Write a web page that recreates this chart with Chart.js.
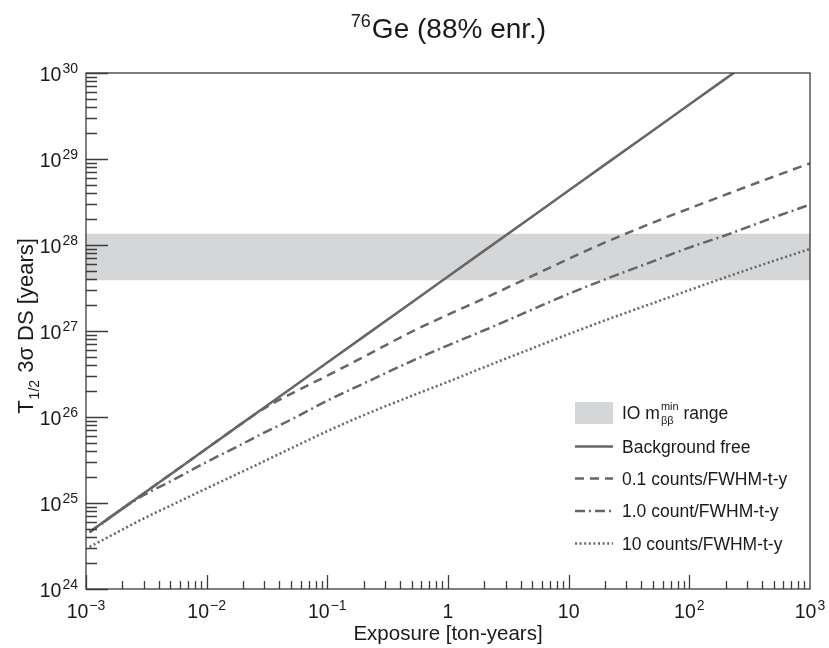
<!DOCTYPE html>
<html lang="en">
<head>
<meta charset="UTF-8">
<title>76Ge (88% enr.) discovery sensitivity</title>
<script src="https://cdn.jsdelivr.net/npm/chart.js@4.4.1/dist/chart.umd.min.js"></script>
<style>
	html, body { margin: 0; padding: 0; background: #fff; }
	#wrap { width: 829px; height: 648px; }
</style>
</head>
<body>
<div id="wrap"><canvas id="mainChart"></canvas></div>
<script>
// exposure grid [ton-years]
const exposure = [1.07e-3, 2e-3, 3e-3, 5e-3, 1e-2, 2e-2, 3e-2, 5e-2, 0.1, 0.2, 0.5, 1, 2, 5, 10, 20, 50, 100, 200, 500, 1000]

// T1/2 3 sigma discovery sensitivity [years]
const bgFree   = [4.6e24, 8.6e24, 1.29e25, 2.15e25, 4.3e25, 8.6e25, 1.29e26, 2.15e26, 4.3e26, 8.6e26, 2.15e27, 4.3e27, 8.6e27, 2.15e28, 4.3e28, 8.6e28, 2.15e29, 4.3e29, 8.6e29, 2.15e30, null]
const counts01 = [4.57e24, 8.6e24, 1.29e25, 2.15e25, 4.3e25, 8.6e25, 1.26e26, 1.86e26, 3.02e26, 5.0e26, 9.8e26, 1.55e27, 2.4e27, 4.37e27, 6.9e27, 1.07e28, 1.82e28, 2.66e28, 3.85e28, 6.24e28, 8.9e28]
const counts1  = [4.57e24, 8.6e24, 1.23e25, 1.78e25, 3.0e25, 4.9e25, 6.6e25, 9.3e25, 1.55e26, 2.45e26, 4.47e26, 6.8e26, 1.02e27, 1.78e27, 2.7e27, 3.98e27, 6.46e27, 9.33e27, 1.30e28, 2.09e28, 2.95e28]
const counts10 = [3.09e24, 4.9e24, 6.6e24, 9.3e24, 1.48e25, 2.34e25, 3.06e25, 4.32e25, 6.85e25, 1.05e26, 1.76e26, 2.57e26, 3.8e26, 6.3e26, 9.2e26, 1.33e27, 2.11e27, 2.99e27, 4.22e27, 6.53e27, 9.0e27]

// IO m_bb^min band [years]
const ioBand = [3.9e27, 1.35e28]

const xRange = [1e-3, 1e3]
const yRange = [1e24, 1e30]
const xTicks = [1e-3, 1e-2, 1e-1, 1, 10, 1e2, 1e3]
const xTickLabels = [["10", "\u22123"], ["10", "\u22122"], ["10", "\u22121"], ["1", ""], ["10", ""], ["10", "2"], ["10", "3"]]
const yTicks = [1e24, 1e25, 1e26, 1e27, 1e28, 1e29, 1e30]
const yTickLabels = [["10", "24"], ["10", "25"], ["10", "26"], ["10", "27"], ["10", "28"], ["10", "29"], ["10", "30"]]

const seriesNames = ["Background free", "0.1 counts/FWHM-t-y", "1.0 count/FWHM-t-y", "10 counts/FWHM-t-y"]

const FONT = '"Liberation Sans", Arial, Helvetica, sans-serif'
const LINE = "#666666"
const dashes = [[], [9, 6], [10, 4, 2, 4], [2, 2.6]]

function pts(values) {
	return exposure.map((e, i) => ({x: e, y: values[i]})).filter(p => p.y !== null)
}

function drawPow(ctx, base, sup, px, py, align, size, supSize, rise) {
	ctx.font = `${size}px ${FONT}`
	const wb = ctx.measureText(base).width
	ctx.font = `${supSize}px ${FONT}`
	const ws = sup ? ctx.measureText(sup).width + 1 : 0
	const w = wb + ws
	const x0 = align === "center" ? px - w / 2 : px - w
	ctx.font = `${size}px ${FONT}`
	ctx.fillText(base, x0, py)
	if(sup) {
		ctx.font = `${supSize}px ${FONT}`
		ctx.fillText(sup, x0 + wb + 1, py - rise)
	}
}

const decor = {
	id: "decor",
	afterDraw(chart) {
		const {ctx, chartArea: a, scales: {x, y}} = chart
		ctx.save()
		ctx.textBaseline = "alphabetic"
		ctx.textAlign = "left"

		// frame
		ctx.strokeStyle = "#3c3c3c"
		ctx.lineWidth = 1.3
		ctx.strokeRect(a.left, a.top, a.right - a.left, a.bottom - a.top)

		// inward ticks
		ctx.beginPath()
		for(let e = Math.log10(xRange[0]); e < Math.log10(xRange[1]); e++) {
			for(let m = 1; m < 10; m++) {
				const px = Math.round(x.getPixelForValue(m * 10 ** e)) + 0.5
				ctx.moveTo(px, a.bottom)
				ctx.lineTo(px, a.bottom - (m === 1 ? 14 : 8))
			}
		}
		for(let e = Math.log10(yRange[0]); e < Math.log10(yRange[1]); e++) {
			for(let m = 1; m < 10; m++) {
				const py = Math.round(y.getPixelForValue(m * 10 ** e)) + 0.5
				ctx.moveTo(a.left, py)
				ctx.lineTo(a.left + (m === 1 ? 22 : 11), py)
			}
		}
		const pyTop = Math.round(y.getPixelForValue(yRange[1])) + 0.5
		ctx.moveTo(a.left, pyTop)
		ctx.lineTo(a.left + 22, pyTop)
		ctx.stroke()

		// tick labels
		ctx.fillStyle = "#1a1a1a"
		xTicks.forEach((v, i) => {
			drawPow(ctx, xTickLabels[i][0], xTickLabels[i][1], x.getPixelForValue(v), a.bottom + 29, "center", 19.5, 14, 8)
		})
		yTicks.forEach((v, i) => {
			drawPow(ctx, yTickLabels[i][0], yTickLabels[i][1], a.left - 8, y.getPixelForValue(v) + 8, "right", 19.5, 14, 8)
		})

		// axis titles
		ctx.font = `20.5px ${FONT}`
		ctx.textAlign = "center"
		ctx.fillText("Exposure [ton-years]", (a.left + a.right) / 2, a.bottom + 51)

		ctx.save()
		ctx.translate(33, 326)
		ctx.rotate(-Math.PI / 2)
		ctx.textAlign = "left"
		const parts = [["T", 22, 0], ["1/2", 14, -6], [" 3\u03c3 DS [years]", 22, 0]]
		let total = 0
		parts.forEach(p => { ctx.font = `${p[1]}px ${FONT}`; total += ctx.measureText(p[0]).width + (p[1] === 14 ? 2 : 0) })
		let cx = -total / 2
		parts.forEach(p => {
			ctx.font = `${p[1]}px ${FONT}`
			ctx.fillText(p[0], cx + (p[1] === 14 ? 1 : 0), -p[2])
			cx += ctx.measureText(p[0]).width + (p[1] === 14 ? 2 : 0)
		})
		ctx.restore()

		// main title
		ctx.textAlign = "left"
		ctx.font = `18px ${FONT}`
		const w76 = ctx.measureText("76").width
		ctx.font = `28px ${FONT}`
		const wGe = ctx.measureText("Ge (88% enr.)").width
		const tx = (a.left + a.right) / 2 - (w76 + wGe) / 2
		ctx.font = `18px ${FONT}`
		ctx.fillText("76", tx, 27)
		ctx.font = `28px ${FONT}`
		ctx.fillText("Ge (88% enr.)", tx + w76 + 1, 38)

		// legend
		const lx = a.left + 489, tx2 = a.left + 536
		const rowY = [413, 446.5, 478.5, 511, 543.5]
		ctx.fillStyle = "#d5d6d8"
		ctx.fillRect(lx, rowY[0] - 11, 38, 22)
		ctx.lineWidth = 2.5
		ctx.strokeStyle = LINE
		dashes.forEach((d, i) => {
			ctx.setLineDash(d)
			ctx.beginPath()
			ctx.moveTo(lx, rowY[i + 1])
			ctx.lineTo(lx + 38, rowY[i + 1])
			ctx.stroke()
		})
		ctx.setLineDash([])
		ctx.fillStyle = "#1a1a1a"
		ctx.font = `17.5px ${FONT}`
		ctx.fillText("IO m", tx2, rowY[0] + 6)
		let ix = tx2 + ctx.measureText("IO m").width + 1
		ctx.font = `11px ${FONT}`
		ctx.fillText("min", ix, rowY[0] - 3)
		ctx.fillText("\u03b2\u03b2", ix, rowY[0] + 11)
		ix += ctx.measureText("min").width
		ctx.font = `17.5px ${FONT}`
		ctx.fillText(" range", ix, rowY[0] + 6)
		seriesNames.forEach((n, i) => ctx.fillText(n, tx2, rowY[i + 1] + 6))

		ctx.restore()
	}
}

const ctx = document.getElementById("mainChart")
new Chart(ctx, {
	type: "line",
	data: {
		datasets: [
			...[bgFree, counts01, counts1, counts10].map((vals, i) => ({
				label: seriesNames[i],
				data: pts(vals),
				borderColor: LINE,
				borderWidth: 2.5,
				borderDash: dashes[i],
				pointRadius: 0,
				fill: false,
				cubicInterpolationMode: i === 0 ? "default" : "monotone",
				tension: 0
			})),
			{
				label: "band low",
				data: [{x: xRange[0], y: ioBand[0]}, {x: xRange[1], y: ioBand[0]}],
				borderWidth: 0,
				pointRadius: 0,
				fill: false
			},
			{
				label: "IO range",
				data: [{x: xRange[0], y: ioBand[1]}, {x: xRange[1], y: ioBand[1]}],
				borderWidth: 0,
				pointRadius: 0,
				backgroundColor: "#d5d6d8",
				fill: "-1"
			}
		]
	},
	options: {
		responsive: true,
		maintainAspectRatio: false,
		animation: false,
		layout: {padding: {left: 86, top: 73, right: 19, bottom: 59}},
		scales: {
			x: {type: "logarithmic", min: xRange[0], max: xRange[1], display: false},
			y: {type: "logarithmic", min: yRange[0], max: yRange[1], display: false}
		},
		plugins: {
			legend: {display: false},
			tooltip: {enabled: false}
		}
	},
	plugins: [decor]
})
</script>
</body>
</html>
